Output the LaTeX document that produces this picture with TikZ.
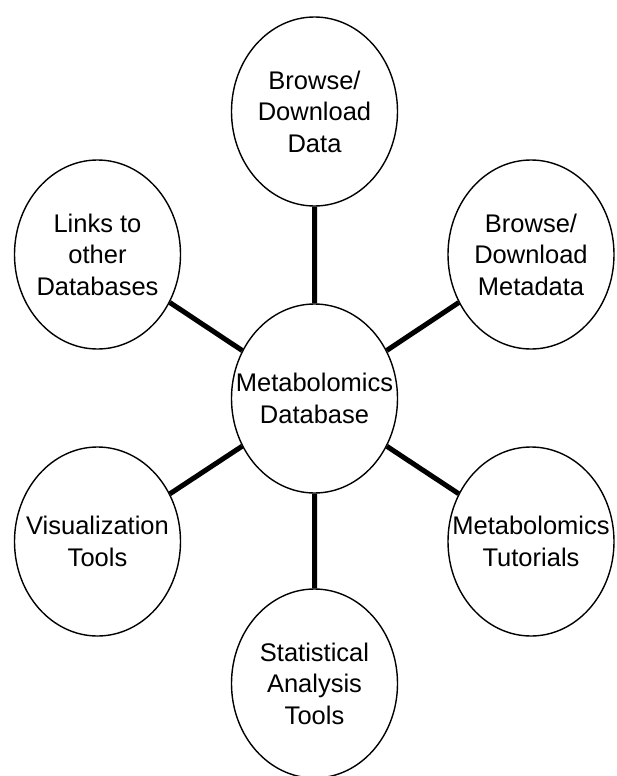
\documentclass[tikz,border=0pt]{standalone}
\usepackage{fontspec}
\setmainfont{Liberation Sans}
\usetikzlibrary{shapes.geometric}

\begin{document}
\begin{tikzpicture}[x=1pt,y=-1pt,every node/.style={draw,shape=ellipse,line width=1.4pt,minimum width=166pt,minimum height=189pt,inner xsep=-30pt,inner ysep=0pt,align=center,font=\fontsize{25.5}{31.5}\selectfont}]
  \useasboundingbox (0,0) rectangle (616,776);
  \path (314.5,398.5) node (db) {Metabolomics\\Database}
  (314.5,111.5) node (data) {Browse/\\Download\\Data} (531,254.5) node (meta) {Browse/\\Download\\Metadata}
  (531,541.5) node (tut) {Metabolomics\\Tutorials} (314.5,683.5) node (stat) {Statistical\\Analysis\\Tools}
  (97.5,541.5) node (vis) {Visualization\\Tools} (97.5,254.5) node (links) {Links to\\other\\Databases};
  \draw[line width=5pt] (db) -- (data) (db) -- (meta) (db) -- (tut) (db) -- (stat) (db) -- (vis) (db) -- (links);
  \end{tikzpicture}
\end{document}
